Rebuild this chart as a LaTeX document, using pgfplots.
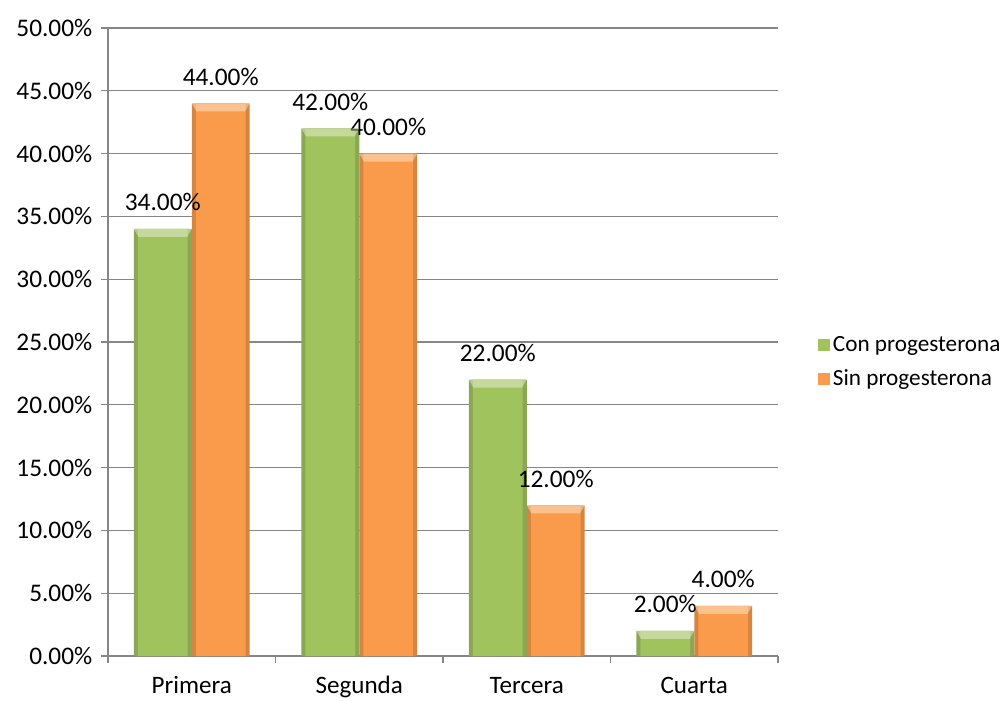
\documentclass[border=0pt]{standalone}
\usepackage{pgfplots}
\pgfplotsset{compat=1.18}
\usepackage{fontspec}
\setmainfont{Carlito}

\definecolor{conprog}{RGB}{160,195,94}
\definecolor{sinprog}{RGB}{249,155,74}
\definecolor{gridgray}{RGB}{134,134,134}

% Porcentaje de pacientes por categoria
\pgfplotstableread{
x con sin
0 34 44
1 42 40
2 22 12
3 2  4
}\datos

% Bisel claro en la parte superior de cada barra (ancho de barra = 43.47pt)
\pgfdeclareplotmark{bevel}{%
  \pgfpathmoveto{\pgfpoint{-21.73pt}{0pt}}%
  \pgfpathlineto{\pgfpoint{21.73pt}{0pt}}%
  \pgfpathlineto{\pgfpoint{18.2pt}{-6pt}}%
  \pgfpathlineto{\pgfpoint{-18.2pt}{-6pt}}%
  \pgfpathclose
  \pgfusepathqfill
}

\newcommand\fuentevalor{\fontsize{19}{22}\selectfont}
\newcommand\fuentecat{\fontsize{18.8}{22}\selectfont}
\newcommand\fuenteley{\fontsize{17.4}{21}\selectfont}

\pgfplotsset{
  % barra exterior algo mas oscura: bordes laterales
  borde/.style={ybar, bar width=0.346, draw=none, fill=#1!86!black, forget plot},
  % barra interior con el color principal
  barra/.style 2 args={ybar, bar width=0.298, draw=none, fill=#1,
    nodes near coords={\pgfmathprintnumber[fixed,fixed zerofill,precision=2]{\pgfplotspointmeta}\%},
    nodes near coords style={anchor=base, yshift=13.5pt, xshift=#2,
      font=\fuentevalor, text=black},
    legend image code/.code={\fill[#1] (0pt,-4.5pt) rectangle (9pt,4.5pt);}},
  bisel/.style={only marks, mark=bevel, forget plot,
    mark options={fill=white, draw=none, fill opacity=0.38, xshift=#1}},
}

\begin{document}
\begin{tikzpicture}
\useasboundingbox (0,0) rectangle (752.25pt,525pt);
\begin{axis}[
  at={(81pt,33pt)}, anchor=south west,
  scale only axis, width=502.5pt, height=471pt,
  xmin=-0.5, xmax=3.5, ymin=0, ymax=50,
  axis lines=left,
  axis line style={gridgray, -, line width=0.9pt},
  tick align=outside,
  major tick length=5.25pt,
  tick style={gridgray, line width=0.9pt},
  ymajorgrids, grid style={gridgray, line width=0.9pt},
  ytick={0,5,...,50},
  yticklabel={\pgfmathprintnumber[fixed,fixed zerofill,precision=2]{\tick}\%},
  /pgf/number format/assume math mode=true,
  xtick={-0.5,0.5,1.5,2.5,3.5},
  x tick label as interval,
  xticklabels={Primera,Segunda,Tercera,Cuarta},
  xticklabel style={anchor=base, yshift=-23pt, font=\fuentecat, text=black},
  yticklabel style={xshift=-3pt, font=\fuentevalor, text=black},
  legend style={draw=none, fill=none, at={(1,0.468)}, anchor=west, xshift=30pt,
    font=\fuenteley, row sep=8pt,
    legend cell align=left, inner sep=0pt},
  clip=false,
]
\addplot[borde=conprog, bar shift=-0.173] table[x=x, y=con]{\datos};
\addplot[borde=sinprog, bar shift=0.173] table[x=x, y=sin]{\datos};
\addplot[barra={conprog}{-21.73pt}, bar shift=-0.173] table[x=x, y=con]{\datos};
\addplot[barra={sinprog}{21.73pt}, bar shift=0.173] table[x=x, y=sin]{\datos};
\addplot[bisel=-21.73pt] table[x=x, y=con]{\datos};
\addplot[bisel=21.73pt] table[x=x, y=sin]{\datos};
\legend{Con progesterona, Sin progesterona}
\end{axis}
\end{tikzpicture}
\end{document}
